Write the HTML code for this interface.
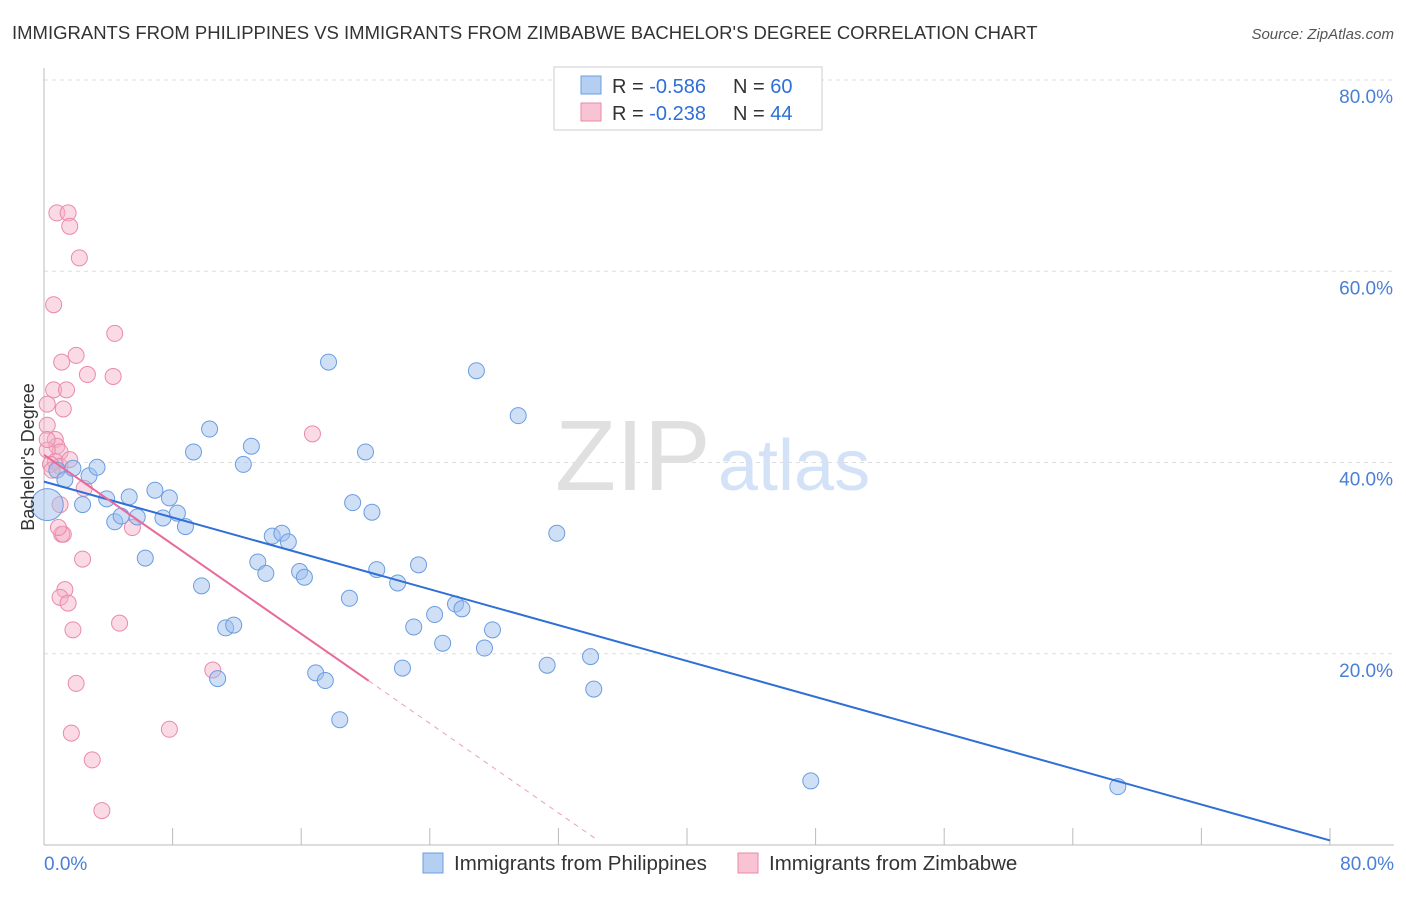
<!DOCTYPE html>
<html><head><meta charset="utf-8"><style>
body{margin:0;background:#fff;font-family:"Liberation Sans",sans-serif;}
svg text{font-family:"Liberation Sans",sans-serif;}
</style></head><body>
<svg id="c" width="1406" height="892">
<text x="12" y="39" font-size="18.5" fill="#333">IMMIGRANTS FROM PHILIPPINES VS IMMIGRANTS FROM ZIMBABWE BACHELOR'S DEGREE CORRELATION CHART</text>
<text x="1394" y="39" font-size="15" fill="#555" font-style="italic" text-anchor="end">Source: ZipAtlas.com</text>
<g id="grid"></g>
<text x="555" y="490" font-size="100" fill="#e0e0e0" font-family="Liberation Serif">ZIP</text>
<text x="718" y="490" font-size="72" fill="#d3e2f6">atlas</text>
<g id="marks"></g>
<text transform="translate(34,457) rotate(-90)" font-size="18" fill="#333" text-anchor="middle">Bachelor's Degree</text>
<g>
<rect x="554" y="67" width="268" height="63" fill="#fff" stroke="#ccc"/>
<rect x="581" y="76" width="20" height="18" fill="#b5cff3" stroke="#6b9de0"/>
<rect x="581" y="103" width="20" height="18" fill="#f8c4d4" stroke="#e98aa9"/>
<text x="612" y="93" font-size="20" fill="#333">R = <tspan fill="#2f6fd6">-0.586</tspan></text>
<text x="733" y="93" font-size="20" fill="#333">N = <tspan fill="#2f6fd6">60</tspan></text>
<text x="612" y="120" font-size="20" fill="#333">R = <tspan fill="#2f6fd6">-0.238</tspan></text>
<text x="733" y="120" font-size="20" fill="#333">N = <tspan fill="#2f6fd6">44</tspan></text>
</g>
<g>
<rect x="423" y="853" width="20" height="20" fill="#b5cff3" stroke="#6b9de0"/>
<text x="454" y="870" font-size="20.5" fill="#333">Immigrants from Philippines</text>
<rect x="738" y="853" width="20" height="20" fill="#f8c4d4" stroke="#e98aa9"/>
<text x="769" y="870" font-size="20.5" fill="#333">Immigrants from Zimbabwe</text>
</g>
</svg>
<script>
const yTicks=[20,40,60,80];
const xTickLabels=["0.0%","80.0%"];
const blueX=[0.8,1.3,1.8,2.4,2.8,3.3,3.9,4.4,4.8,5.3,5.8,6.3,6.9,7.4,7.8,8.3,8.8,9.3,9.8,10.3,10.8,11.3,11.8,12.4,12.9,13.3,13.8,14.2,14.8,15.2,15.9,16.2,16.9,17.5,17.7,18.4,19.0,19.2,20.0,20.4,20.7,22.0,22.3,23.0,23.3,24.3,24.8,25.6,26.0,26.9,27.4,27.9,29.5,31.3,31.9,34.0,34.2,47.7,66.8,0.2];
const blueY=[39.2,38.2,39.4,35.6,38.6,39.5,36.2,33.8,34.4,36.4,34.3,30.0,37.1,34.2,36.3,34.7,33.3,41.1,27.1,43.5,17.4,22.7,23.0,39.8,41.7,29.6,28.4,32.3,32.6,31.7,28.6,28.0,18.0,17.2,50.5,13.1,25.8,35.8,41.1,34.8,28.8,27.4,18.5,22.8,29.3,24.1,21.1,25.2,24.7,49.6,20.6,22.5,44.9,18.8,32.6,19.7,16.3,6.7,6.1,35.6];
const pinkX=[0.8,1.5,1.6,2.2,0.6,4.4,1.1,2.0,2.7,4.3,0.6,1.4,0.2,1.2,0.2,0.7,0.8,1.0,0.2,0.7,1.0,0.4,2.5,16.7,1.0,1.1,1.2,0.9,5.5,2.4,1.3,1.0,1.5,1.8,4.7,10.5,2.0,1.7,7.8,3.0,3.6,0.2,0.5,1.6];
const pinkY=[66.1,66.1,64.7,61.4,56.5,53.5,50.5,51.2,49.2,49.0,47.6,47.6,46.1,45.6,43.9,42.4,41.7,41.1,41.3,40.1,39.6,39.8,37.3,43.0,35.6,32.5,32.5,33.2,33.2,29.9,26.7,25.9,25.3,22.5,23.2,18.3,16.9,11.7,12.1,8.9,3.6,42.4,39.2,40.3];
const blueFit=[38.0,-0.469];
const pinkFit=[40.8,-1.17];
const NS="http://www.w3.org/2000/svg";
const X=v=>44+v/80*1286, Y=v=>845-v/80*765;
function mk(t,a,p){const e=document.createElementNS(NS,t);for(const k in a)e.setAttribute(k,a[k]);p.appendChild(e);return e;}
const g=document.getElementById('grid'),m=document.getElementById('marks');
yTicks.forEach(t=>{const l=mk('line',{x1:44,x2:1394,y1:Y(t),y2:Y(t),stroke:'#ddd','stroke-dasharray':'4,4'},g);


const tx=mk('text',{x:1393,y:Y(t)+23,'font-size':19,fill:'#4a7fd6','text-anchor':'end'},g);tx.textContent=t.toFixed(1)+'%';

});
const ax=mk('line',{x1:44,x2:1394,y1:845,y2:845,stroke:'#bbb'},g);


const ay=mk('line',{x1:44,x2:44,y1:68,y2:845,stroke:'#bbb'},g);


for(let i=1;i<=10;i++){const t=mk('line',{x1:X(i*8),x2:X(i*8),y1:828,y2:845,stroke:'#bbb'},g);

}
const l0=mk('text',{x:44,y:870,'font-size':19,fill:'#4a7fd6'},g);l0.textContent=xTickLabels[0];


const l1=mk('text',{x:1394,y:870,'font-size':19,fill:'#4a7fd6','text-anchor':'end'},g);l1.textContent=xTickLabels[1];


pinkX.forEach((v,i)=>{const c=mk('circle',{cx:X(v),cy:Y(pinkY[i]),r:8,fill:'rgba(245,175,198,0.45)',stroke:'#e98aa9','stroke-width':1},m);

});
blueX.forEach((v,i)=>{const c=mk('circle',{cx:X(v),cy:Y(blueY[i]),r:i==blueX.length-1?16:8,fill:'rgba(160,192,238,0.5)',stroke:'#6b9de0','stroke-width':1},m);

});
const bl=mk('line',{x1:X(0),y1:Y(blueFit[0]),x2:X(80),y2:Y(blueFit[0]+blueFit[1]*80),stroke:'#2f6fd6','stroke-width':2},m);


const pe=20.2, pz=(0.5-pinkFit[0])/pinkFit[1];
const pl=mk('line',{x1:X(0),y1:Y(pinkFit[0]),x2:X(pe),y2:Y(pinkFit[0]+pinkFit[1]*pe),stroke:'#e8699a','stroke-width':2},m);


const pd=mk('line',{x1:X(pe),y1:Y(pinkFit[0]+pinkFit[1]*pe),x2:X(pz),y2:Y(0.5),stroke:'#e8a0bb','stroke-width':1,'stroke-dasharray':'5,5'},m);


</script>
</body></html>
